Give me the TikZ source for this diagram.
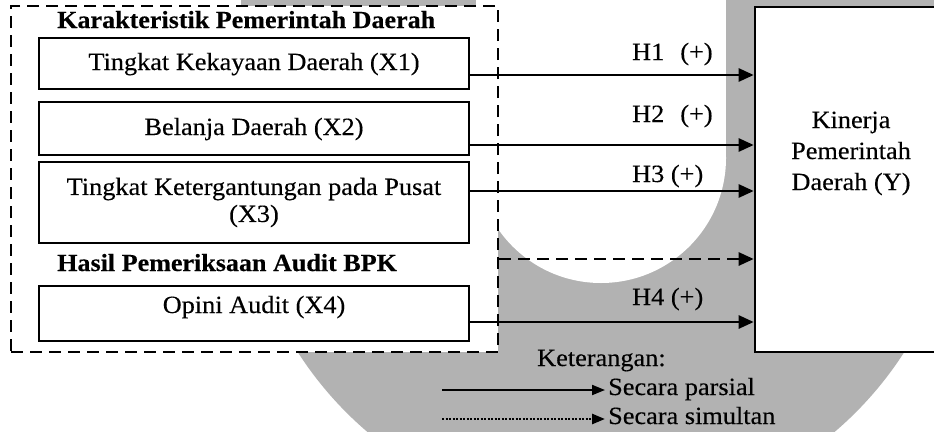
\documentclass[tikz,border=0pt]{standalone}
\usepackage{fontspec}
\setmainfont[FakeStretch=1.06,FakeBold=0.3]{Liberation Serif}
\usetikzlibrary{arrows.meta}
\definecolor{wm}{RGB}{178,178,178}
\begin{document}
\begin{tikzpicture}[x=1pt,y=-1pt,
  every node/.style={font=\fontsize{24.8pt}{27pt}\selectfont, inner sep=0pt},
  boldtitle/.style={anchor=base west, font=\fontsize{24.6pt}{27pt}\selectfont\bfseries},
  varbox/.style={draw, line width=2.2pt, fill=white, minimum width=430pt, align=center},
  groupbox/.style={draw, line width=2.6pt, dash pattern=on 12pt off 7pt, fill=white},
  ybox/.style={draw, line width=2.6pt, fill=white},
  arr/.style={line width=2.6pt, -{Triangle[length=15pt,width=13pt]}},
  legarr/.style={line width=2pt, -{Triangle[length=13pt,width=10pt]}},
  hlabel/.style={anchor=base west},
]
\useasboundingbox (0,0) rectangle (934,431);
\clip (0,0) rectangle (934,431);
\fill[white] (0,0) rectangle (934,431);
% watermark
\fill[wm] (241,-2) rectangle (961,158);
\fill[wm] (601,158) circle[radius=360pt];
\fill[white] (476,-2) rectangle (726,158);
\fill[white] (601,158) circle[radius=125pt];

% group box
\node[groupbox, minimum width=487pt, minimum height=346pt] (grp) at (254.5,179) {};
\node[boldtitle] (t1) at (57,28) {Karakteristik Pemerintah Daerah};
\node[boldtitle] (t2) at (57,271) {Hasil Pemeriksaan Audit BPK};

\node[varbox, text height=32pt, text depth=19pt] (x1) at (254,63.5) {Tingkat Kekayaan Daerah (X1)};
\node[varbox, text height=33pt, text depth=20pt] (x2) at (254,128.5) {Belanja Daerah (X2)};
\node[varbox, minimum height=81pt] (x3) at (254,202.5) {Tingkat Ketergantungan pada Pusat\\(X3)};
\node[varbox, text height=27pt, text depth=28pt] (x4) at (254,313.5) {Opini Audit (X4)};

% dependent box
\node[ybox, minimum width=192pt, minimum height=345pt] (Y) at (851,179.5) {};
\node[anchor=base] (y1) at (851,128) {Kinerja};
\node[anchor=base] (y2) at (851,159) {Pemerintah};
\node[anchor=base] (y3) at (851,190) {Daerah (Y)};

% arrows
\coordinate (r1) at (0,75);
\coordinate (r2) at (0,145);
\coordinate (r3) at (0,191);
\coordinate (r5) at (0,259);
\coordinate (r4) at (0,322);
\draw[arr] (x1.east |- r1) -- (Y.west |- r1);
\draw[arr] (x2.east |- r2) -- (Y.west |- r2);
\draw[arr] (x3.east |- r3) -- (Y.west |- r3);
\draw[arr, dash pattern=on 12pt off 7pt] (grp.east |- r5) -- (Y.west |- r5);
\draw[arr] (x4.east |- r4) -- (Y.west |- r4);

\node[hlabel] (h1) at (632,60) {H1\hspace{16pt}(+)};
\node[hlabel] (h2) at (632,122) {H2\hspace{16pt}(+)};
\node[hlabel] (h3) at (632,182) {H3 (+)};
\node[hlabel] (h4) at (632,305) {H4 (+)};

% legend
\node[anchor=base west] (ket) at (537,366) {Keterangan:};
\node[anchor=base west] (lp) at (608,395) {Secara parsial};
\node[anchor=base west] (ls) at (608,424) {Secara simultan};
\coordinate (lp0) at (442,390);
\coordinate (ls0) at (442,419);
\draw[legarr, shorten >=3pt] (lp0) -- (lp.west |- lp0);
\draw[legarr, shorten >=3pt, line width=2.6pt, dash pattern=on 2pt off 1.5pt] (ls0) -- (ls.west |- ls0);
\end{tikzpicture}
\end{document}
